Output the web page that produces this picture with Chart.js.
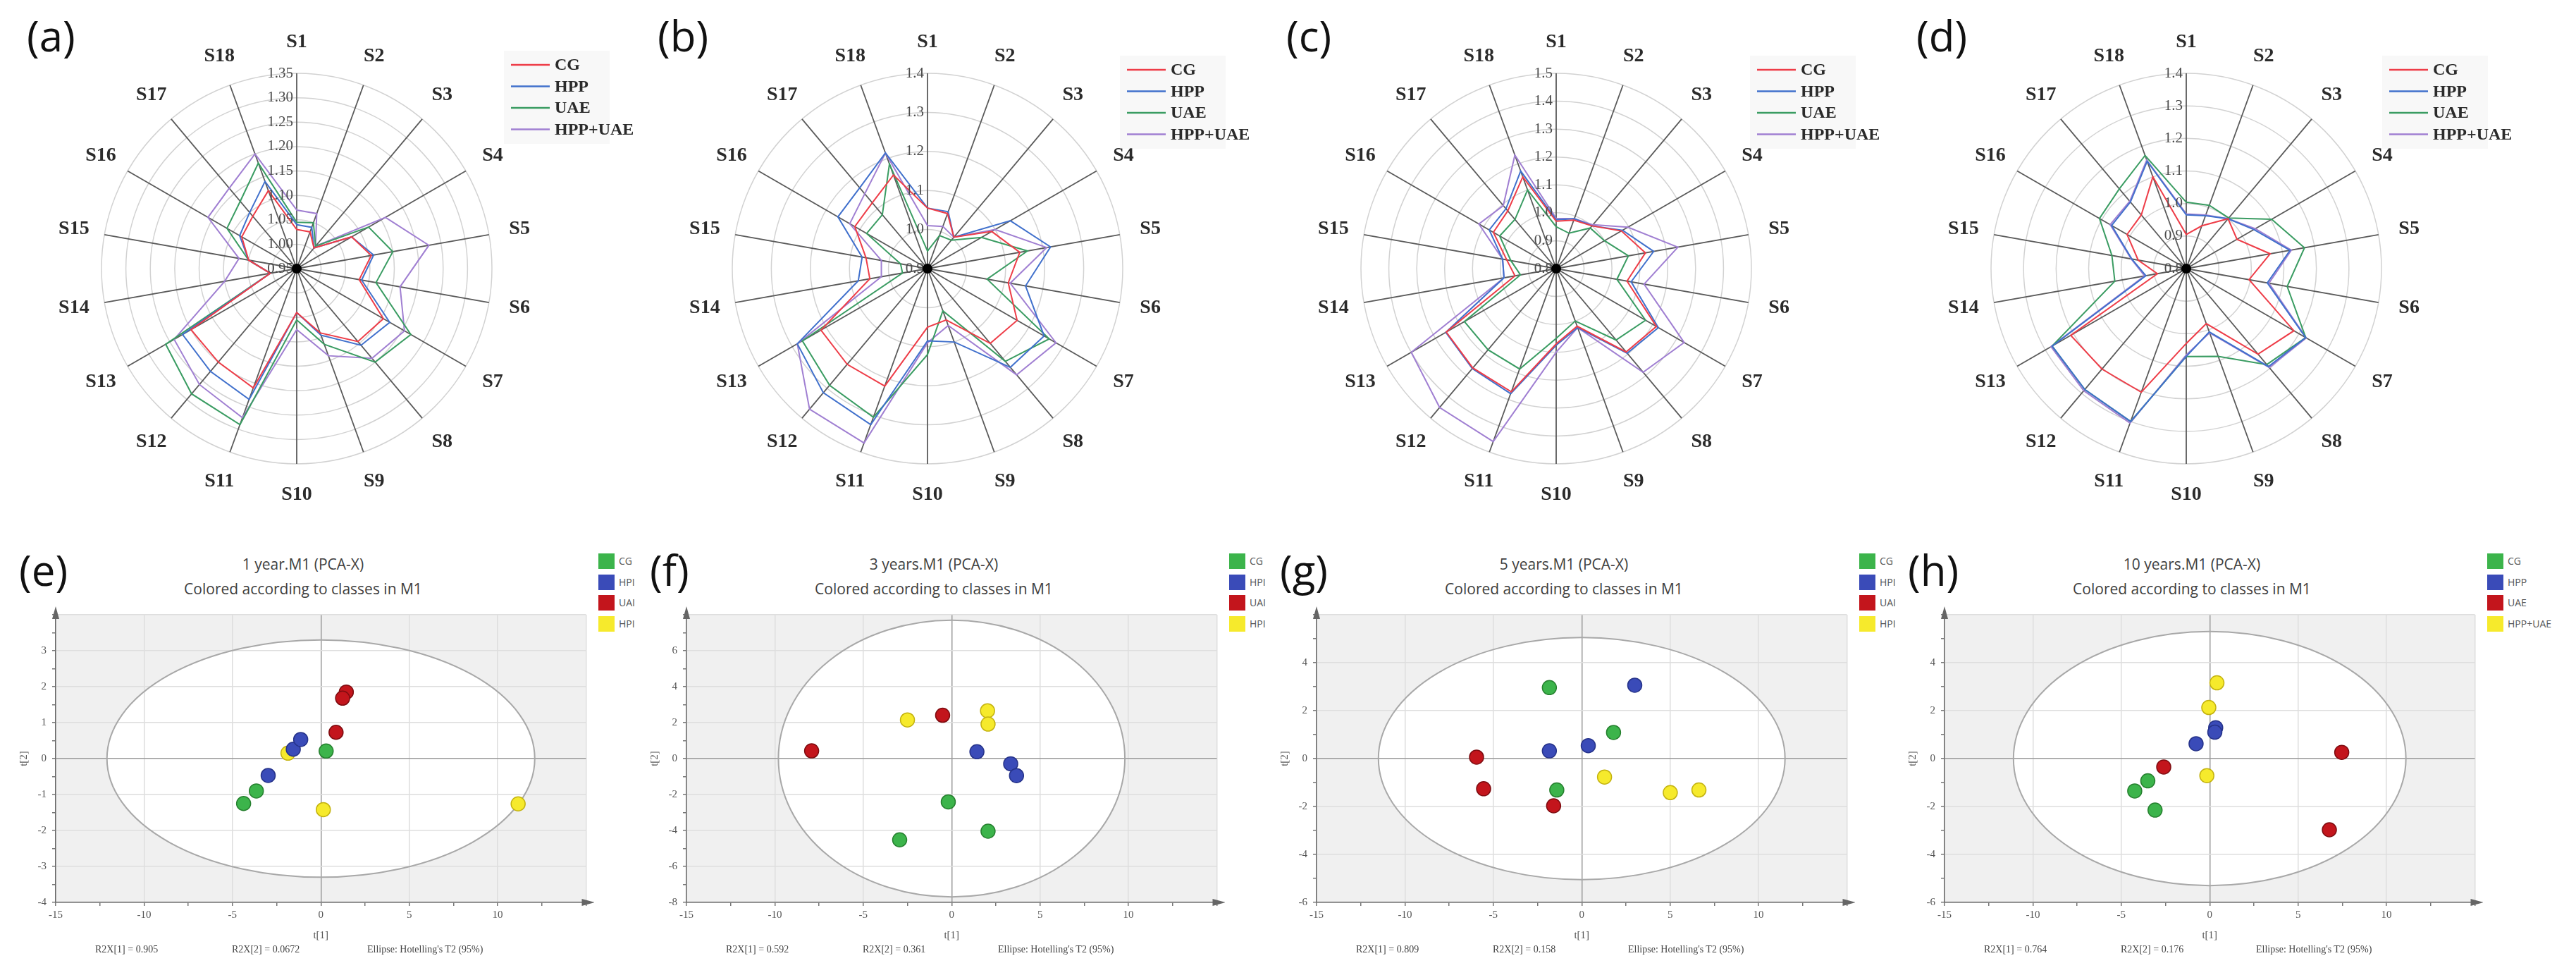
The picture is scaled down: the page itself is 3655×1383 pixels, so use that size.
<!DOCTYPE html>
<html>
<head>
<meta charset="utf-8">
<script src="https://cdn.jsdelivr.net/npm/chart.js@4.4.1/dist/chart.umd.min.js"></script>
<style>
html, body { margin: 0; padding: 0; background: #fff; }
body { width: 3655px; height: 1383px; position: relative; overflow: hidden; }
canvas { position: absolute; }
.tag { position: absolute; font-family: 'Open Sans', sans-serif; font-size: 60px; line-height: 60px; color: #111; }
.ttl { position: absolute; font-family: 'Open Sans', sans-serif; font-size: 21px; line-height: 24px; color: #404040; transform: translateX(-50%); white-space: nowrap; }
.foot { position: absolute; font-family: 'Liberation Serif', serif; font-size: 14px; line-height: 16px; color: #444; white-space: nowrap; }
.lg { position: absolute; font-family: 'Open Sans', sans-serif; font-size: 14px; line-height: 22px; color: #555; white-space: nowrap; }
.sw { position: absolute; width: 23px; height: 22px; }
</style>
</head>
<body>
<script>
// radar categories
var spokes = ['S1','S2','S3','S4','S5','S6','S7','S8','S9','S10','S11','S12','S13','S14','S15','S16','S17','S18'];
var groups = ['CG', 'HPP', 'UAE', 'HPP+UAE'];

// (a)
var cgA  = [1.03, 1.03, 1.005, 1.08, 1.105, 1.08, 1.155, 1.145, 1.09, 1.04, 1.21, 1.20, 1.20, 1.005, 1.05, 1.08, 1.09, 1.12];
var hppA = [1.04, 1.04, 1.005, 1.08, 1.11, 1.085, 1.17, 1.155, 1.095, 1.04, 1.235, 1.225, 1.22, 1.005, 1.05, 1.085, 1.10, 1.14];
var uaeA = [1.045, 1.05, 1.01, 1.12, 1.15, 1.115, 1.22, 1.20, 1.115, 1.055, 1.29, 1.285, 1.26, 1.005, 1.05, 1.115, 1.13, 1.18];
var mixA = [1.07, 1.07, 1.01, 1.16, 1.225, 1.165, 1.205, 1.19, 1.14, 1.075, 1.275, 1.26, 1.24, 1.10, 1.07, 1.16, 1.165, 1.20];
// (b)
var cgB  = [1.055, 1.05, 1.005, 1.09, 1.14, 1.11, 1.165, 1.15, 1.04, 1.05, 1.22, 1.22, 1.215, 1.05, 1.06, 1.115, 1.12, 1.155];
var hppB = [1.055, 1.055, 1.005, 1.145, 1.22, 1.155, 1.245, 1.23, 1.10, 1.085, 1.325, 1.315, 1.285, 1.08, 1.07, 1.165, 1.17, 1.215];
var uaeB = [0.945, 0.99, 0.995, 1.06, 1.16, 1.055, 1.26, 1.21, 1.015, 1.12, 1.305, 1.29, 1.27, 0.965, 0.97, 1.08, 1.08, 1.185];
var mixB = [1.01, 1.015, 1.005, 1.10, 1.21, 1.115, 1.28, 1.255, 1.055, 1.09, 1.375, 1.37, 1.285, 1.02, 1.02, 1.13, 1.15, 1.215];
// (c)
var cgC  = [0.97, 0.985, 1.0, 1.07, 1.125, 1.058, 1.215, 1.19, 1.02, 1.07, 1.27, 1.265, 1.255, 0.95, 0.98, 1.06, 1.07, 1.15];
var hppC = [0.975, 0.99, 1.0, 1.075, 1.155, 1.073, 1.223, 1.196, 1.025, 1.075, 1.277, 1.268, 1.257, 0.99, 0.995, 1.077, 1.08, 1.172];
var uaeC = [0.95, 0.935, 0.99, 1.0, 1.063, 1.021, 1.17, 1.134, 1.0, 1.05, 1.183, 1.18, 1.18, 0.93, 0.965, 1.034, 1.03, 1.10];
var mixC = [0.98, 0.99, 1.005, 1.097, 1.243, 1.12, 1.33, 1.285, 1.025, 1.10, 1.46, 1.45, 1.40, 0.99, 0.995, 1.12, 1.095, 1.233];
// (d)
var cgD  = [0.905, 0.94, 1.0, 0.98, 1.062, 0.996, 1.182, 1.143, 0.98, 1.03, 1.204, 1.203, 1.21, 0.89, 0.95, 1.01, 1.015, 1.10];
var hppD = [0.965, 0.973, 1.0, 1.04, 1.124, 1.053, 1.224, 1.193, 1.007, 1.07, 1.30, 1.285, 1.276, 0.926, 0.97, 1.065, 1.067, 1.151];
var uaeD = [1.004, 1.007, 1.003, 1.103, 1.169, 1.115, 1.224, 1.185, 1.087, 1.07, 1.30, 1.285, 1.276, 1.023, 1.032, 1.108, 1.12, 1.17];
var mixD = [0.968, 0.975, 1.0, 1.045, 1.128, 1.058, 1.226, 1.197, 1.01, 1.065, 1.305, 1.29, 1.28, 0.93, 0.972, 1.07, 1.07, 1.155];

// PCA score points [t1, t2]
var eCG = [[-4.37, -1.25], [-3.65, -0.90], [0.30, 0.21]];
var eHP = [[-2.98, -0.47], [-1.56, 0.26], [-1.14, 0.53]];
var eUA = [[1.44, 1.85], [1.23, 1.68], [0.86, 0.73]];
var eMX = [[-1.86, 0.15], [0.14, -1.42], [11.16, -1.26]];

var fCG = [[-0.19, -2.41], [2.06, -4.04], [-2.94, -4.52]];
var fHP = [[1.43, 0.38], [3.34, -0.29], [3.67, -0.95]];
var fUA = [[-7.92, 0.43], [-0.51, 2.41]];
var fMX = [[-2.5, 2.15], [2.03, 2.66], [2.06, 1.92]];

var gCG = [[-1.83, 2.96], [1.80, 1.09], [-1.41, -1.31]];
var gHP = [[3.0, 3.06], [0.37, 0.54], [-1.83, 0.32]];
var gUA = [[-5.95, 0.06], [-5.55, -1.26], [-1.59, -1.97]];
var gMX = [[1.29, -0.77], [5.01, -1.42], [6.63, -1.31]];

var hCG = [[-3.5, -0.93], [-4.24, -1.35], [-3.09, -2.15]];
var hHP = [[0.34, 1.29], [0.29, 1.10], [-0.77, 0.62]];
var hUA = [[-2.6, -0.35], [7.47, 0.26], [6.77, -2.97]];
var hMX = [[0.41, 3.16], [-0.05, 2.13], [-0.16, -0.71]];

var lineColors = ['#ee3d48', '#4070cc', '#3a9c62', '#a07fd2'];
var dotFill = ['#3cb44b', '#3a4bb8', '#c3151c', '#f6ea2c'];
var dotEdge = ['#26802f', '#26338a', '#7e0c10', '#c4b310'];

function mk(left, top, w, h) {
    var c = document.createElement('canvas');
    c.width = w; c.height = h;
    c.style.left = left + 'px'; c.style.top = top + 'px';
    c.style.width = w + 'px'; c.style.height = h + 'px';
    document.body.appendChild(c);
    return c;
}
function txt(cls, left, top, s) {
    var d = document.createElement('div');
    d.className = cls;
    d.style.left = left + 'px'; d.style.top = top + 'px';
    d.textContent = s;
    document.body.appendChild(d);
    return d;
}

var radarDeco = {
    id: 'radarDeco',
    afterDatasetsDraw: function(chart, args, o) {
        var s = chart.scales.r, ctx = chart.ctx;
        var cx = s.xCenter, cy = s.yCenter;
        ctx.save();
        // spoke names
        ctx.font = 'bold 28px "Liberation Serif"';
        ctx.fillStyle = '#2b2b2b';
        ctx.textAlign = 'center';
        ctx.textBaseline = 'middle';
        chart.data.labels.forEach(function(l, i) {
            var p = s.getPointPosition(i, s.drawingArea + 44);
            ctx.fillText(l, p.x, p.y);
        });
        // radial tick values on the S1 spoke
        ctx.font = '21px "Liberation Serif"';
        ctx.fillStyle = '#4a4a4a';
        ctx.textAlign = 'right';
        s.ticks.forEach(function(t) {
            var d = s.getDistanceFromCenterForValue(t.value);
            ctx.fillText(t.value.toFixed(o.dec), cx - 5, cy - d);
        });
        ctx.fillStyle = '#000';
        ctx.beginPath();
        ctx.arc(cx, cy, 7, 0, Math.PI * 2);
        ctx.fill();
        // legend
        var lx = cx + o.lgX, ly = o.lgY;
        ctx.fillStyle = 'rgba(235,235,235,0.35)';
        ctx.fillRect(lx - 10, ly - 20, 150, 4 * 30.5 + 10);
        ctx.font = 'bold 24px "Liberation Serif"';
        ctx.textAlign = 'left';
        chart.data.datasets.forEach(function(ds, i) {
            var y = ly + i * 30.5;
            ctx.strokeStyle = ds.borderColor;
            ctx.lineWidth = 2.5;
            ctx.beginPath(); ctx.moveTo(lx, y); ctx.lineTo(lx + 55, y); ctx.stroke();
            ctx.fillStyle = '#2b2b2b';
            ctx.fillText(ds.label, lx + 62, y + 1);
        });
        ctx.restore();
    }
};

var R = 277, PAD = 72, CY = 381, LEGW = 200;
var radars = [
    { tag: '(a)', cx: 421, min: 0.95, max: 1.35, step: 0.05, dec: 2, lgX: 304, lgY: 60, sets: [cgA, hppA, uaeA, mixA] },
    { tag: '(b)', cx: 1316, min: 0.9, max: 1.4, step: 0.1, dec: 1, lgX: 283, lgY: 67, sets: [cgB, hppB, uaeB, mixB] },
    { tag: '(c)', cx: 2208, min: 0.8, max: 1.5, step: 0.1, dec: 1, lgX: 285, lgY: 67, sets: [cgC, hppC, uaeC, mixC] },
    { tag: '(d)', cx: 3102, min: 0.8, max: 1.4, step: 0.1, dec: 1, lgX: 288, lgY: 67, sets: [cgD, hppD, uaeD, mixD] }
];

radars.forEach(function(p) {
    var cv = mk(p.cx - R - PAD, CY - R - PAD, 2 * R + 2 * PAD + LEGW, 2 * R + 2 * PAD);
    txt('tag', p.cx - 383, 20, p.tag);
    new Chart(cv, {
        type: 'radar',
        data: {
            labels: spokes,
            datasets: p.sets.map(function(d, i) {
                return { label: groups[i], data: d, borderColor: lineColors[i], borderWidth: 2, pointRadius: 0, fill: false, tension: 0 };
            })
        },
        options: {
            responsive: false, animation: false, events: [],
            layout: { padding: { left: PAD, right: PAD + LEGW, top: PAD, bottom: PAD } },
            plugins: { legend: { display: false }, tooltip: { enabled: false }, radarDeco: { dec: p.dec, lgX: p.lgX, lgY: p.lgY } },
            scales: {
                r: {
                    min: p.min, max: p.max,
                    ticks: { display: false, stepSize: p.step },
                    pointLabels: { display: false },
                    grid: { circular: true, color: '#d2d2d2', lineWidth: 1.5 },
                    angleLines: { color: '#5a5a5a', lineWidth: 1.8 }
                }
            }
        },
        plugins: [radarDeco]
    });
});

var pcaDeco = {
    id: 'pcaDeco',
    beforeDraw: function(chart, args, o) {
        var a = chart.chartArea, ctx = chart.ctx, x = chart.scales.x, y = chart.scales.y;
        ctx.save();
        ctx.fillStyle = '#f0f0f0';
        ctx.fillRect(a.left, a.top, a.right - a.left, a.bottom - a.top);
        var ex = x.getPixelForValue(0), ey = y.getPixelForValue(0);
        var rx = x.getPixelForValue(o.a) - ex, ry = ey - y.getPixelForValue(o.b);
        ctx.fillStyle = '#ffffff';
        ctx.beginPath(); ctx.ellipse(ex, ey, rx, ry, 0, 0, Math.PI * 2); ctx.fill();
        ctx.restore();
    },
    beforeDatasetsDraw: function(chart, args, o) {
        var a = chart.chartArea, ctx = chart.ctx, x = chart.scales.x, y = chart.scales.y;
        var ex = x.getPixelForValue(0), ey = y.getPixelForValue(0);
        var rx = x.getPixelForValue(o.a) - ex, ry = ey - y.getPixelForValue(o.b);
        ctx.save();
        ctx.strokeStyle = '#a8a8a8';
        ctx.lineWidth = 2;
        ctx.beginPath(); ctx.ellipse(ex, ey, rx, ry, 0, 0, Math.PI * 2); ctx.stroke();
        // axis arrow heads
        ctx.fillStyle = '#666';
        ctx.beginPath();
        ctx.moveTo(a.left, a.top - 12); ctx.lineTo(a.left - 5, a.top + 6); ctx.lineTo(a.left + 5, a.top + 6);
        ctx.closePath(); ctx.fill();
        ctx.beginPath();
        ctx.moveTo(a.right + 12, a.bottom); ctx.lineTo(a.right - 6, a.bottom - 5); ctx.lineTo(a.right - 6, a.bottom + 5);
        ctx.closePath(); ctx.fill();
        ctx.restore();
    }
};

var pcas = [
    { tag: '(e)', left: 79, ymin: -4, ymax: 4, ystep: 0.5, ymajor: 1, ea: 12.1, eb: 3.3, sets: [eCG, eHP, eUA, eMX],
      names: ['CG', 'HPI', 'UAI', 'HPI'], title: '1 year.M1 (PCA-X)', r1: '0.905', r2: '0.0672' },
    { tag: '(f)', left: 974, ymin: -8, ymax: 8, ystep: 1, ymajor: 2, ea: 9.8, eb: 7.7, sets: [fCG, fHP, fUA, fMX],
      names: ['CG', 'HPI', 'UAI', 'HPI'], title: '3 years.M1 (PCA-X)', r1: '0.592', r2: '0.361' },
    { tag: '(g)', left: 1868, ymin: -6, ymax: 6, ystep: 1, ymajor: 2, ea: 11.5, eb: 5.05, sets: [gCG, gHP, gUA, gMX],
      names: ['CG', 'HPI', 'UAI', 'HPI'], title: '5 years.M1 (PCA-X)', r1: '0.809', r2: '0.158' },
    { tag: '(h)', left: 2759, ymin: -6, ymax: 6, ystep: 1, ymajor: 2, ea: 11.1, eb: 5.3, sets: [hCG, hHP, hUA, hMX],
      names: ['CG', 'HPP', 'UAE', 'HPP+UAE'], title: '10 years.M1 (PCA-X)', r1: '0.764', r2: '0.176' }
];

var PW = 754, PH = 415, PTOP = 865, YAX = 78, XAX = 60;

function isMult(v, m) { return Math.abs(v / m - Math.round(v / m)) < 1e-6; }

pcas.forEach(function(p) {
    var cv = mk(p.left - YAX, PTOP - 10, YAX + PW + 10, 10 + PH + XAX);
    txt('tag', p.left - 52, 778, p.tag);
    txt('ttl', p.left + 351, 788, p.title);
    txt('ttl', p.left + 351, 823, 'Colored according to classes in M1');
    txt('foot', p.left + 56, 1339, 'R2X[1] = ' + p.r1);
    txt('foot', p.left + 250, 1339, 'R2X[2] = ' + p.r2);
    txt('foot', p.left + 442, 1339, "Ellipse: Hotelling's T2 (95%)");
    p.names.forEach(function(n, i) {
        var sw = txt('sw', p.left + PW + 16, 785 + i * 29.5, '');
        sw.style.background = dotFill[i];
        txt('lg', p.left + PW + 45, 785 + i * 29.5, n);
    });
    new Chart(cv, {
        type: 'scatter',
        data: {
            datasets: p.sets.map(function(pts, i) {
                return {
                    label: p.names[i],
                    data: pts.map(function(q) { return { x: q[0], y: q[1] }; }),
                    backgroundColor: dotFill[i], borderColor: dotEdge[i],
                    pointRadius: 10, pointBorderWidth: 1.5
                };
            })
        },
        options: {
            responsive: false, animation: false, events: [],
            layout: { padding: { top: 10, right: 10, left: 0, bottom: 0 } },
            plugins: { legend: { display: false }, tooltip: { enabled: false }, pcaDeco: { a: p.ea, b: p.eb } },
            scales: {
                x: {
                    type: 'linear', min: -15, max: 15,
                    afterFit: function(s) { s.height = XAX; },
                    ticks: {
                        stepSize: 2.5, autoSkip: false, maxRotation: 0, padding: 4,
                        font: { family: 'Liberation Serif', size: 15 }, color: '#555',
                        callback: function(v) { return (isMult(v, 5) && v < 15) ? String(v) : ''; }
                    },
                    grid: {
                        color: function(c) {
                            var v = c.tick ? c.tick.value : 1;
                            if (v === 0) return '#9a9a9a';
                            return isMult(v, 5) ? '#dedede' : 'rgba(0,0,0,0)';
                        },
                        lineWidth: 1.5, tickColor: '#777', tickLength: 5
                    },
                    border: { color: '#666', width: 1.5 },
                    title: { display: true, text: 't[1]', font: { family: 'Liberation Serif', size: 15 }, color: '#555', padding: { top: 0, bottom: 4 } }
                },
                y: {
                    type: 'linear', min: p.ymin, max: p.ymax,
                    afterFit: function(s) { s.width = YAX; },
                    ticks: {
                        stepSize: p.ystep, autoSkip: false, padding: 8,
                        font: { family: 'Liberation Serif', size: 15 }, color: '#555',
                        callback: function(v) { return (isMult(v, p.ymajor) && v < p.ymax) ? String(v) : ''; }
                    },
                    grid: {
                        color: function(c) {
                            var v = c.tick ? c.tick.value : 1;
                            if (v === 0) return '#9a9a9a';
                            return isMult(v, p.ymajor) ? '#dedede' : 'rgba(0,0,0,0)';
                        },
                        lineWidth: 1.5, tickColor: '#777', tickLength: 5
                    },
                    border: { color: '#666', width: 1.5 },
                    title: { display: true, text: 't[2]', font: { family: 'Liberation Serif', size: 15 }, color: '#555', padding: { top: 24 } }
                }
            }
        },
        plugins: [pcaDeco]
    });
});
</script>
</body>
</html>
